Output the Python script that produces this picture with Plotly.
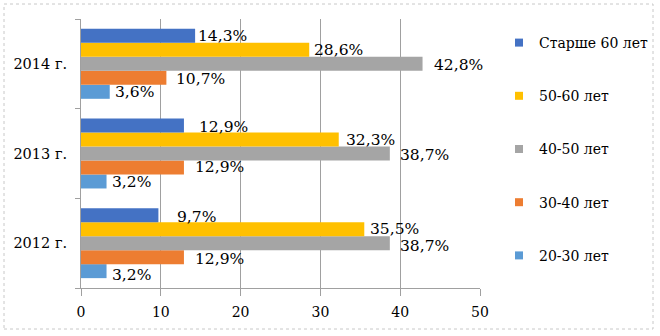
import plotly.graph_objects as go

# ---- data ----
categories = ["2012 г.", "2013 г.", "2014 г."]
series_names = ["20-30 лет", "30-40 лет", "40-50 лет", "50-60 лет", "Старше 60 лет"]
v_20_30 = [3.2, 3.2, 3.6]
v_30_40 = [12.9, 12.9, 10.7]
v_40_50 = [38.7, 38.7, 42.8]
v_50_60 = [35.5, 32.3, 28.6]
v_60_plus = [9.7, 12.9, 14.3]
x_ticks = [0, 10, 20, 30, 40, 50]

series_values = [v_20_30, v_30_40, v_40_50, v_50_60, v_60_plus]
colors = ["#5B9BD5", "#ED7D31", "#A5A5A5", "#FFC000", "#4472C4"]

# label pixel nudges (layout tuning): [series][category]
label_dx = [[3, 3, 3], [9, 9, 8], [8, 8, 9], [4, 5, 3], [17, 13, 1]]
label_dy = [[-4, -1, 0], [-2, 0, -1], [-3, -1, -1], [0, 0, 0], [-2, -1, 0]]

FONT = "DejaVu Serif"
BARGAP = 0.22
n = len(series_names)
bar_w = (1 - BARGAP) / n

fig = go.Figure()
for k, (name, vals, col) in enumerate(zip(series_names, series_values, colors)):
    fig.add_trace(go.Bar(
        y=categories, x=vals, name=name, orientation="h",
        marker=dict(color=col, line=dict(width=0)),
        showlegend=False,
    ))
    # legend proxy with small square marker
    fig.add_trace(go.Scatter(
        x=[None], y=[None], mode="markers", name=name,
        marker=dict(symbol="square", size=8, color=col),
        legendgroup=name, legendrank=100 + (n - k), showlegend=True,
    ))

annotations = []
for k, vals in enumerate(series_values):
    off = (k - (n - 1) / 2) * bar_w
    for i, v in enumerate(vals):
        annotations.append(dict(
            x=v, y=i + off, xref="x", yref="y",
            text=f"{v:.1f}".replace(".", ",") + "%",
            showarrow=False, xanchor="left", yanchor="middle",
            xshift=label_dx[k][i], yshift=label_dy[k][i],
            font=dict(family=FONT, size=15.5, color="#000000"),
        ))

L, R, T, B = 81, 180, 19, 48
W, H = 660, 336
pw, ph = W - L - R, H - T - B

def px_x(p):
    return (p - L) / pw

def px_y(p):
    return (H - B - p) / ph

fig.update_layout(
    width=W, height=H,
    margin=dict(l=L, r=R, t=T, b=B, autoexpand=False),
    paper_bgcolor="white", plot_bgcolor="white",
    barmode="group", bargap=BARGAP, bargroupgap=0,
    font=dict(family=FONT, size=15, color="#000000"),
    annotations=annotations,
    xaxis=dict(
        range=[0, 50], tickvals=x_ticks, ticktext=[str(t) for t in x_ticks],
        showgrid=True, gridcolor="#a0a0a0", gridwidth=1,
        showline=True, linecolor="#a0a0a0", linewidth=1,
        ticks="outside", ticklen=7, tickcolor="#a0a0a0",
        zeroline=False, tickfont=dict(family=FONT, size=14),
        automargin=False, ticklabelstandoff=4,
    ),
    yaxis=dict(
        type="category", range=[-0.5, 2.5],
        showgrid=False, showline=True, linecolor="#a0a0a0", linewidth=1,
        ticks="outside", ticklen=5, tickcolor="#a0a0a0", tickson="boundaries",
        zeroline=False, tickfont=dict(family=FONT, size=14.5),
        ticklabelstandoff=10, automargin=False,
    ),
    legend=dict(
        x=px_x(499), y=px_y(27), xanchor="left", yanchor="top",
        traceorder="grouped", tracegroupgap=32, maxheight=320,
        font=dict(family=FONT, size=14), bgcolor="rgba(0,0,0,0)",
    ),
    shapes=[dict(
        type="rect", xref="paper", yref="paper",
        x0=px_x(4), x1=px_x(653), y0=px_y(329), y1=px_y(4),
        line=dict(color="#c8c8c8", width=1, dash="dot"),
    )],
)

fig.write_html("out.html")
